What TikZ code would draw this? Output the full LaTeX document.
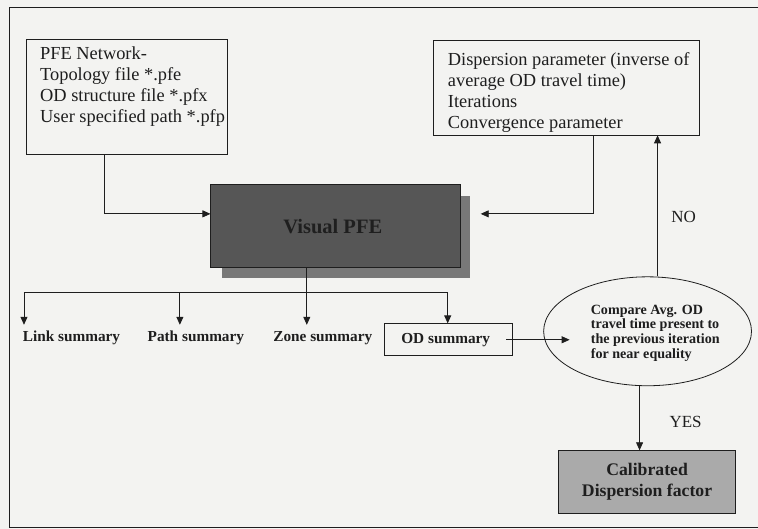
\documentclass[tikz,border=0pt]{standalone}
\usepackage{fontspec}
\setmainfont{Liberation Serif}
\usetikzlibrary{arrows.meta,shapes.geometric,calc}
\definecolor{bg}{RGB}{243,243,241}
\definecolor{vpfill}{RGB}{86,86,86}
\definecolor{vpshadow}{RGB}{120,120,120}
\definecolor{cbfill}{RGB}{170,170,170}
\definecolor{ink}{RGB}{30,30,30}
\tikzset{
  frame/.style={draw=ink, line width=1pt},
  box/.style={draw=ink, line width=0.8pt, rectangle, inner sep=0pt},
  ln/.style={draw=ink, line width=0.8pt},
  arr/.style={draw=ink, line width=0.8pt, -{Triangle[length=8pt,width=7pt]}},
  txt/.style={inner sep=0pt, text=ink, font=\fontsize{18.4}{21}\selectfont},
  btxt/.style={inner sep=0pt, text=ink, font=\bfseries\fontsize{15.3}{18}\selectfont},
}
\begin{document}
\begin{tikzpicture}[x=1pt,y=-1pt]
\fill[bg] (0,0) rectangle (758,529);
\draw[frame] (758,8) -- (10,8) -- (10,528) -- (758,528);

% input boxes
\node[box, minimum width=202pt, minimum height=116pt] (lb) at (127,97) {};
\node[txt, anchor=north west, align=left] (lbt) at (40,47)
  {PFE Network-\\Topology file *.pfe\\OD structure file *.pfx\\User specified path *.pfp};
\node[box, minimum width=266pt, minimum height=95pt] (rb) at (567,87.5) {};
\node[txt, anchor=north west, align=left] (rbt) at (448,52)
  {Dispersion parameter (inverse of\\average OD travel time)\\Iterations\\Convergence parameter};

% Visual PFE
\node[rectangle, fill=vpshadow, minimum width=248pt, minimum height=82pt] (vps) at (346,237) {};
\node[box, fill=vpfill, minimum width=250pt, minimum height=83pt] (vp) at (336,226.5) {};
\node[inner sep=0pt, text=black!88, font=\bfseries\fontsize{20.5}{24}\selectfont] (vpt) at (333,227) {Visual PFE};

% outputs
\node[btxt] (ls) at (71.5,338) {Link summary};
\node[btxt] (ps) at (196,338) {Path summary};
\node[btxt] (zs) at (323,338) {Zone summary};
\node[box, minimum width=128pt, minimum height=32pt] (od) at (449,340) {};
\node[btxt] (odt) at (446,340) {OD summary};

% decision
\node[ellipse, draw=ink, line width=0.8pt, minimum width=208pt, minimum height=109pt, inner sep=0pt] (el) at (648,331.5) {};
\node[inner sep=0pt, text=ink, anchor=north west, align=left, font=\bfseries\fontsize{14.1}{14.6}\selectfont] (elt) at (591,305)
  {Compare Avg. OD\\travel time present to\\the previous iteration\\for near equality};

\node[box, fill=cbfill, minimum width=177pt, minimum height=63pt] (cb) at (647.5,482.5) {};
\node[inner sep=0pt, text=ink, align=center, font=\bfseries\fontsize{17.7}{21}\selectfont] (cbt) at (647.5,482) {Calibrated\\Dispersion factor};

\node[txt, font=\fontsize{17}{20}\selectfont] (no) at (684,217) {NO};
\node[txt, font=\fontsize{17}{20}\selectfont] (yes) at (686,422) {YES};

% helper coordinates
\coordinate (c1) at (104,214);
\coordinate (c2) at (594,214);
\coordinate (c2e) at (481,214);
\coordinate (c3) at (658,0);
\coordinate (c4) at (640,0);
\coordinate (c5) at (570,340);
\coordinate (t1) at (24,325);
\coordinate (t2) at (180,325);
\coordinate (t3) at (307,325);
\coordinate (j1) at (24,293);
\coordinate (j4) at (448,293);

% connectors
\draw[arr] (lb.south -| c1) |- (vp.west |- c1);
\draw[arr] (rb.south -| c2) |- (c2e);
\draw[arr] (vp.south -| t3) -- (t3);
\draw[ln] (j1) -- (j4);
\draw[arr] (j1) -- (t1);
\draw[arr] (j1 -| t2) -- (t2);
\draw[arr] (j4) -- (od.north -| j4);
\draw[arr] ([xshift=-7pt]od.east) -- (c5);
\draw[arr] (el.north -| c3) -- (rb.south -| c3);
\draw[arr] (el.south -| c4) -- (cb.north -| c4);
\end{tikzpicture}
\end{document}
